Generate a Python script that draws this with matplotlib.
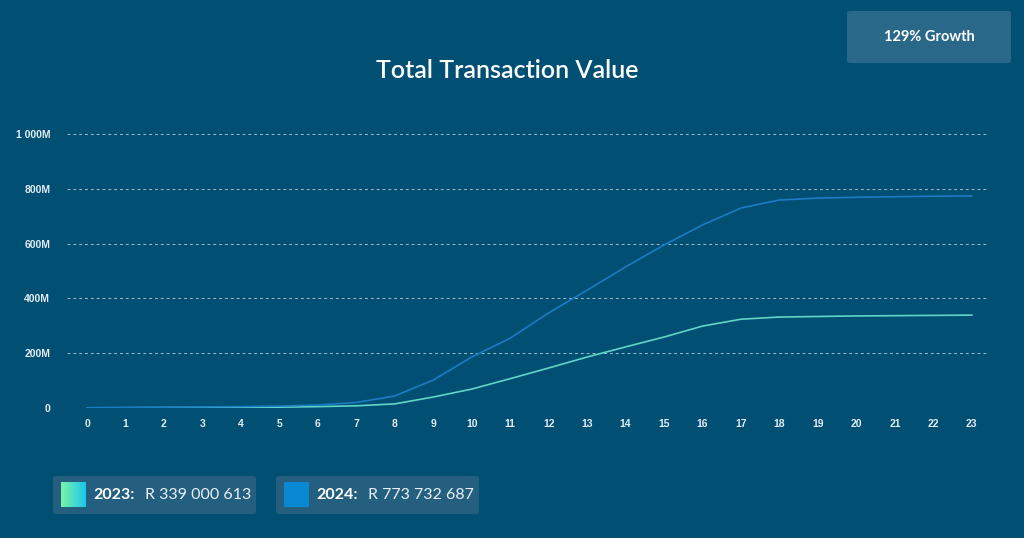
import numpy as np
import matplotlib
matplotlib.use('Agg')
import matplotlib.pyplot as plt
from matplotlib.patches import FancyBboxPatch
from matplotlib.ticker import FuncFormatter

plt.rcParams['font.family'] = ['Lato', 'DejaVu Sans']

# data (millions, cumulative by hour)
hours = list(range(24))
val_2023 = [0.5, 1, 1.5, 2, 2, 3, 5, 8, 15, 40, 69, 107, 146, 186, 223, 259,
            299, 324, 332, 334, 336, 337, 338, 339]
val_2024 = [1, 2, 3, 4, 5, 7, 11, 20, 44, 102, 186, 255, 347, 430, 515, 595,
            668, 730, 759, 766, 769, 771, 773, 774]
yticks = [0, 200, 400, 600, 800, 1000]
title = 'Total Transaction Value'
growth = '129% Growth'
legend_years = ['2023:', '2024:']
legend_totals = ['R 339 000 613', 'R 773 732 687']

bg = '#024f74'
fig = plt.figure(figsize=(10.24, 5.38), dpi=100)
fig.patch.set_facecolor(bg)

ax = fig.add_axes([67/1024, 1-408/538, (988-67)/1024, (408-134)/538])
ax.set_facecolor(bg)
ax.plot(hours, val_2023, color='#5fd6c6', lw=1.2)
ax.plot(hours, val_2024, color='#1b7cc4', lw=1.2)
ax.set_xlim(-0.52, 23.42)
ax.set_ylim(0, 1000)
ax.set_xticks(hours)
ax.set_yticks(yticks)

def fmt(v, p):
    if v == 0:
        return '0'
    return '{:,.0f}M'.format(v).replace(',', ' ')

ax.yaxis.set_major_formatter(FuncFormatter(fmt))
ax.tick_params(length=0, colors='#e3edf3', labelsize=7.5)
for lab in ax.get_xticklabels() + ax.get_yticklabels():
    lab.set_fontweight('bold')
    lab.set_family(['Liberation Sans', 'DejaVu Sans'])
ax.tick_params(axis='x', pad=8)
ax.tick_params(axis='y', pad=12)
ax.grid(axis='y', color='#c8d8e2', ls=(0, (3, 3)), lw=0.7, alpha=0.8)
ax.set_axisbelow(True)
for s in ax.spines.values():
    s.set_visible(False)

fig.text(507/1024, 1-70/538, title, color='white', fontsize=18,
         ha='center', va='center', fontweight='semibold')

# growth badge
fig.patches.append(FancyBboxPatch((847/1024, 1-63/538), 164/1024, 52/538,
                                  boxstyle='round,pad=0,rounding_size=0.004',
                                  transform=fig.transFigure, fc='#2a6889', ec='none',
                                  zorder=0))
fig.text(929/1024, 1-37/538, growth, color='white', fontsize=10.5,
         fontweight='bold', ha='center', va='center')

# legend boxes
box_x = [53, 276]
for i in range(2):
    x0 = box_x[i]
    fig.patches.append(FancyBboxPatch((x0/1024, 1-514/538), 203/1024, 38/538,
                                      boxstyle='round,pad=0,rounding_size=0.004',
                                      transform=fig.transFigure, fc='#245f80', ec='none',
                                      zorder=0))
    sw = fig.add_axes([(x0+8)/1024, 1-507/538, 25/1024, 25/538])
    sw.set_zorder(5)
    sw.axis('off')
    if i == 0:
        grad = np.linspace(0, 1, 50).reshape(1, -1)
        cmap = matplotlib.colors.LinearSegmentedColormap.from_list('g', ['#7cf2a8', '#1ac8ea'])
        sw.imshow(grad, cmap=cmap, aspect='auto', extent=[0, 1, 0, 1])
    else:
        sw.imshow([[0]], cmap=matplotlib.colors.ListedColormap(['#0a88d4']),
                  aspect='auto', extent=[0, 1, 0, 1])
    sw.set_xlim(0, 1)
    sw.set_ylim(0, 1)
    fig.text((x0+40)/1024, 1-495/538, legend_years[i], color='white',
             fontsize=11.5, fontweight='bold', ha='left', va='center')
    fig.text((x0+92)/1024, 1-495/538, legend_totals[i], color='#e8f0f5',
             fontsize=11.5, ha='left', va='center')

fig.savefig('out.png', dpi=100, facecolor=bg)
